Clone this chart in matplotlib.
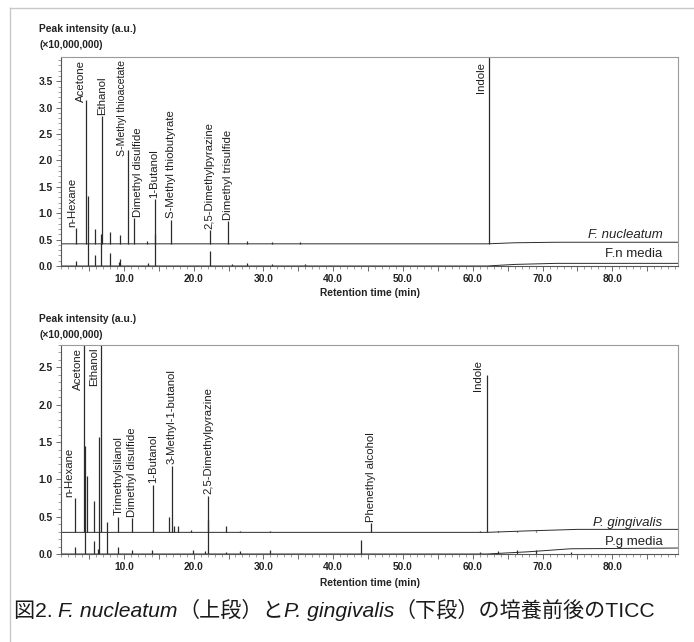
import numpy as np
import matplotlib
matplotlib.use("Agg")
from matplotlib import pyplot as plt
from matplotlib.ticker import MultipleLocator, FuncFormatter
from matplotlib.lines import Line2D
from matplotlib.offsetbox import TextArea, HPacker, AnchoredOffsetbox

plt.rcParams['font.family'] = ['Liberation Sans', 'Noto Sans CJK JP', 'DejaVu Sans']

# --- F. nucleatum (upper panel), heights above own baseline, x10,000,000 ---
fn_rt = [3.1, 4.6, 5.9, 6.85, 7.95, 9.5, 10.6, 11.4, 13.35, 14.4, 16.8,
         22.3, 24.95, 27.6, 31.3, 35.2, 62.3]
fn_h = [0.30, 2.73, 0.29, 2.42, 0.22, 0.17, 1.78, 0.49, 0.05, 0.84, 0.46,
        0.26, 0.44, 0.05, 0.03, 0.03, 4.6]
fn_offset = 0.42
fn_base_rt = [1, 62, 66, 72, 89.4]
fn_base = [0.42, 0.42, 0.44, 0.45, 0.45]

fnm_rt = [3.1, 4.85, 5.9, 6.8, 7.95, 9.3, 9.5, 13.5, 14.4, 22.3, 25.5,
          27.6, 31.3, 36.0]
fnm_h = [0.10, 1.32, 0.20, 0.60, 0.25, 0.08, 0.13, 0.05, 0.60, 0.28, 0.04,
         0.06, 0.04, 0.03]
fnm_base_rt = [1, 62, 66, 72, 89.4]
fnm_base = [0.0, 0.0, 0.03, 0.05, 0.05]

fn_labels = ["n-Hexane", "Acetone", "Ethanol", "S-Methyl thioacetate",
             "Dimethyl disulfide", "1-Butanol", "S-Methyl thiobutyrate",
             "2,5-Dimethylpyrazine", "Dimethyl trisulfide", "Indole"]
fn_label_rt = [3.1, 4.6, 6.85, 10.6, 11.4, 14.4, 16.8, 22.3, 24.95, 62.3]

# --- P. gingivalis (lower panel) ---
pg_rt = [3.0, 4.3, 4.7, 5.75, 6.7, 9.2, 11.2, 14.25, 16.5, 16.9, 17.25,
         17.7, 19.65, 22.1, 24.7, 26.7, 31.0, 45.4, 61.0, 62.0, 63.6, 66.4,
         69.0]
pg_h = [0.46, 3.0, 0.75, 0.42, 3.0, 0.21, 0.19, 0.64, 0.20, 0.89, 0.08,
        0.09, 0.03, 0.49, 0.08, 0.02, 0.02, 0.12, 0.02, 2.11, 0.02, 0.02,
        0.02]
pg_offset = 0.29
pg_base_rt = [1, 62, 68, 75, 89.4]
pg_base = [0.29, 0.29, 0.31, 0.33, 0.33]

pgm_rt = [3.0, 4.5, 5.75, 6.3, 6.5, 7.6, 9.2, 11.2, 14.0, 19.9, 21.7, 22.1,
          24.7, 26.7, 31.0, 44.0, 61.0, 63.6, 66.4, 69.0, 74.0]
pgm_h = [0.10, 1.45, 0.17, 0.07, 1.57, 0.43, 0.10, 0.05, 0.06, 0.05, 0.04,
         0.45, 0.03, 0.04, 0.06, 0.19, 0.03, 0.04, 0.05, 0.05, 0.03]
pgm_base_rt = [1, 62, 68, 74, 89.4]
pgm_base = [0.0, 0.0, 0.03, 0.07, 0.08]

pg_labels = ["n-Hexane", "Acetone", "Ethanol", "Trimethylsilanol",
             "Dimethyl disulfide", "1-Butanol", "3-Methyl-1-butanol",
             "2,5-Dimethylpyrazine", "Phenethyl alcohol", "Indole"]
pg_label_rt = [3.0, 4.3, 6.7, 9.2, 11.2, 14.25, 16.9, 22.1, 45.4, 62.0]

W, H = 694, 642
INK = '#2b2b2b'
LABEL_SIZE = 8.2


def px(x, y):
    # pixel position (from top left) -> figure fraction
    return x / W, 1 - y / H


def draw_panel(ax, top, rt, h, off, base_rt, base, mrt, mh, mbase_rt, mbase,
               labels, label_rt, nudge, top_anchor, small, name, media):
    # media trace
    ax.plot(mbase_rt, mbase, color=INK, lw=0.7)
    ax.vlines(mrt, 0, mh, color=INK, lw=0.9)
    # sample trace
    ax.plot(base_rt, base, color=INK, lw=0.7)
    ax.vlines(rt, off, off + np.array(h), color=INK, lw=0.9)

    for lab, r in zip(labels, label_rt):
        apex = off + h[rt.index(r)]
        dx = nudge.get(lab, 0.0)
        fs = small.get(lab, LABEL_SIZE)
        if lab in top_anchor:
            ax.text(r + dx, top - top_anchor[lab], lab, rotation=90,
                    ha='center', va='top', fontsize=fs, color='#1e1e1e')
        else:
            ax.text(r + dx, apex + 0.02, lab, rotation=90,
                    ha='center', va='bottom', fontsize=fs, color='#1e1e1e')

    ax.text(0.975, off + 0.05, name, transform=ax.get_yaxis_transform(),
            ha='right', va='bottom', fontsize=9.5, style='italic',
            color='#222222')
    ax.text(0.975, off / 2 + 0.01, media, transform=ax.get_yaxis_transform(),
            ha='right', va='center', fontsize=9.5, color='#222222')

    ax.set_xlim(1, 89.4)
    ax.set_ylim(0, top)
    ax.xaxis.set_major_locator(MultipleLocator(5))
    ax.xaxis.set_minor_locator(MultipleLocator(1))
    ax.xaxis.set_major_formatter(FuncFormatter(
        lambda v, p: '%.1f' % v if abs(v % 10) < 1e-6 else ''))
    ax.yaxis.set_major_locator(MultipleLocator(0.5))
    ax.yaxis.set_minor_locator(MultipleLocator(0.1))
    ax.yaxis.set_major_formatter(FuncFormatter(lambda v, p: '%.1f' % v))
    ax.tick_params(which='major', direction='out', length=3.5, width=0.6,
                   color='#555555', labelsize=7.4, pad=2.5)
    ax.tick_params(which='minor', direction='out', length=2, width=0.5,
                   color='#777777')
    for lab in ax.get_xticklabels() + ax.get_yticklabels():
        lab.set_fontweight('bold')
        lab.set_color('#222222')
    for s in ['top', 'right']:
        ax.spines[s].set_color('#9a9a9a')
        ax.spines[s].set_linewidth(0.8)
    for s in ['left', 'bottom']:
        ax.spines[s].set_color('#555555')
        ax.spines[s].set_linewidth(0.8)


fig = plt.figure(figsize=(W / 100, H / 100), dpi=100)

ax1 = fig.add_axes([61 / W, 1 - 266 / H, 617 / W, 209 / H])
ax2 = fig.add_axes([61 / W, 1 - 554 / H, 617 / W, 209 / H])

draw_panel(ax1, 3.96, fn_rt, fn_h, fn_offset, fn_base_rt, fn_base,
           fnm_rt, fnm_h, fnm_base_rt, fnm_base, fn_labels, fn_label_rt,
           {"n-Hexane": -0.5, "Acetone": -0.8, "S-Methyl thioacetate": -0.9,
            "Dimethyl disulfide": 0.7, "Indole": -1.1},
           {"Acetone": 0.06, "Indole": 0.1, "S-Methyl thioacetate": 0.05},
           {"S-Methyl thioacetate": 7.6},
           "F. nucleatum", "F.n media")
draw_panel(ax2, 2.8, pg_rt, pg_h, pg_offset, pg_base_rt, pg_base,
           pgm_rt, pgm_h, pgm_base_rt, pgm_base, pg_labels, pg_label_rt,
           {"n-Hexane": -0.8, "Acetone": -0.9, "Ethanol": -1.0,
            "Indole": -1.3},
           {"Acetone": 0.04, "Ethanol": 0.03, "Indole": 0.2},
           {},
           "P. gingivalis", "P.g media")

# axis titles
for y0 in [29, 319]:
    fig.text(*px(39, y0), "Peak intensity (a.u.)", fontsize=7.4,
             fontweight='bold', va='center', color='#222222')
    fig.text(*px(39, y0 + 16), "(\u00d710,000,000)", fontsize=7.4,
             fontweight='bold', va='center', color='#222222')
for y0 in [293, 583]:
    fig.text(*px(370, y0), "Retention time (min)", fontsize=7.4,
             fontweight='bold', ha='center', va='center', color='#222222')

# frame lines
fig.add_artist(Line2D([10 / W, 1], [1 - 8 / H] * 2, transform=fig.transFigure,
                      color='#c8c8c8', lw=1))
fig.add_artist(Line2D([10 / W] * 2, [0, 1 - 8 / H], transform=fig.transFigure,
                      color='#c8c8c8', lw=1))

# caption
parts = [("図2. ", 'normal'), ("F. nucleatum", 'italic'), ("（上段）と", 'normal'),
         ("P. gingivalis", 'italic'), ("（下段）の培養前後のTICC", 'normal')]
boxes = [TextArea(t, textprops=dict(fontsize=15.2, style=s, color='#1a1a1a'))
         for t, s in parts]
cap = HPacker(children=boxes, align='baseline', pad=0, sep=0)
fig.add_artist(AnchoredOffsetbox(loc='center left', child=cap, pad=0,
                                 borderpad=0, frameon=False,
                                 bbox_to_anchor=px(14, 611),
                                 bbox_transform=fig.transFigure))

fig.savefig("out.png", dpi=100)
